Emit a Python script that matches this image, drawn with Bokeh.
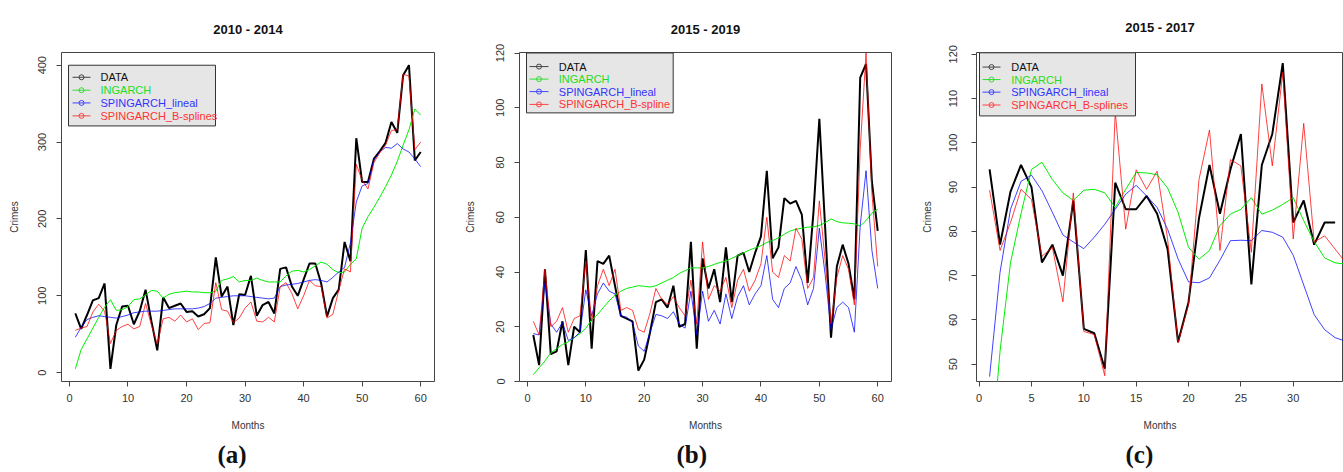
from bokeh.plotting import figure
from bokeh.models import Range1d, FixedTicker, Title, ColumnDataSource
from bokeh.layouts import row
from bokeh.embed import file_html
from bokeh.resources import INLINE
from bokeh.core.properties import value

# ---------------- data ----------------
months_a = list(range(1, 61))
data_a = [77, 57, 75, 94, 97, 116, 5, 62, 86, 87, 63, 80, 108, 67, 29, 98, 84, 87, 90, 79,
          80, 73, 76, 84, 150, 99, 112, 62, 102, 101, 126, 74, 88, 92, 77, 135, 137, 112, 100, 121,
          142, 142, 116, 73, 97, 108, 170, 145, 305, 248, 248, 278, 288, 299, 326, 312, 387, 400, 276, 287]
ingarch_a = [5, 30, 44, 58, 72, 85, 95, 81, 82, 86, 95, 96, 101, 107, 106, 97, 102, 104, 105, 106,
             105, 105, 104, 104, 106, 120, 122, 125, 118, 120, 120, 123, 120, 118, 118, 118, 126, 132, 133, 131,
             134, 139, 144, 141, 134, 130, 131, 141, 148, 188, 203, 215, 228, 242, 257, 275, 296, 316, 343, 335]
lineal_a = [46, 59, 69, 72, 74, 73, 72, 71, 73, 75, 78, 79, 80, 80, 80, 81, 82, 83, 83, 83,
            83, 84, 86, 90, 97, 98, 99, 100, 100, 100, 99, 98, 97, 96, 97, 112, 114, 115, 116, 118,
            120, 121, 120, 118, 124, 131, 137, 169, 222, 243, 246, 277, 287, 293, 292, 298, 291, 287, 278, 268]
bspl_a = [55, 58, 60, 79, 89, 80, 38, 55, 60, 63, 57, 60, 90, 62, 37, 70, 72, 67, 75, 66,
          70, 56, 64, 65, 117, 82, 80, 65, 71, 84, 92, 67, 66, 72, 66, 112, 117, 103, 83, 100,
          120, 113, 112, 71, 76, 107, 135, 131, 271, 250, 239, 273, 286, 296, 315, 316, 388, 386, 290, 300]

months_b = list(range(1, 61))
data_b = [17, 6, 41, 10, 11, 22, 6, 20, 18, 48, 12, 44, 43, 46, 35, 24, 23, 22, 4, 8,
          18, 29, 30, 27, 35, 20, 21, 51, 12, 45, 34, 41, 29, 49, 29, 46, 47, 40, 47, 53,
          77, 45, 49, 67, 65, 66, 61, 36, 62, 96, 56, 16, 42, 50, 43, 30, 111, 116, 73, 55]
ingarch_b = [2.5, 5, 7.5, 10.5, 12, 13.5, 14.5, 16, 17.5, 19.5, 22.5, 24.5, 27, 29.5, 31.5, 33, 34, 34.5, 35, 34.8,
             34.5, 35, 36, 37, 38, 39.5, 40.5, 41.5, 41.5, 41.5, 42, 42.8, 43.5, 44, 45, 46, 47, 48, 48.8, 49.6,
             50.8, 51.5, 52.5, 53.8, 55, 55.6, 56, 56.4, 56.5, 57, 58, 59.4, 58.4, 58, 57.8, 57.6, 56.8, 58.8, 61.5, 63]
lineal_b = [17.5, 17, 36, 21, 18, 21.5, 15, 16, 18, 33.5, 24, 32, 36, 33, 32, 24, 23.5, 21.5, 13, 11,
            18, 24.5, 24, 23, 25.5, 21, 19.5, 33, 17, 33, 22, 26, 21, 32, 23, 31, 35, 28, 32, 35,
            46, 30, 27, 34, 36, 42, 37, 28, 34, 56, 39, 19, 27, 29, 27, 18, 57, 77, 48, 34]
bspl_b = [22, 17, 41, 20, 22, 27, 18, 23, 24, 44, 22, 35, 41, 35, 41, 26, 27, 26, 19, 18,
          25, 34, 30, 28, 31, 27, 24, 37, 21, 51, 30, 35, 33, 38, 27, 37, 41, 33, 37, 43,
          60, 40, 38, 46, 44, 56, 52, 34, 38, 66, 44, 21, 38, 46, 41, 28, 85, 120, 69, 42]

months_c_data = list(range(1, 35))
months_c_model = list(range(1, 36))
data_c = [94, 77, 89, 95, 90, 73, 77, 70, 87, 58, 57, 49, 91, 85, 85, 88, 84, 76, 55, 64,
          83, 95, 84, 94, 102, 68, 95, 102, 118, 82, 87, 77, 82, 82]
ingarch_c = [25, 53, 73, 84, 94, 95.6, 91.7, 88.7, 87, 89.3, 89.5, 88.7, 85.4, 89.5, 93.3, 93.2, 92.8, 89.8, 84.3, 76.4,
             73.7, 75.7, 81.3, 83.9, 85, 87.6, 83.9, 84.8, 86.1, 87.6, 82.4, 77.7, 74, 72.9, 72.6]
lineal_c = [47.2, 70.8, 85, 91.3, 92.7, 89.2, 84.3, 79.2, 77.6, 76.1, 78.7, 81.6, 85, 88.4, 90.4, 88, 85.4, 80.5, 73.8, 68.6,
            68.4, 69.5, 73.5, 77.9, 78, 77.9, 80.2, 79.8, 78.7, 74.6, 67.9, 61.2, 57.8, 56, 55.2]
bspl_c = [89.3, 75.7, 82, 89.5, 87.2, 74.4, 76.4, 64.1, 88.7, 57.4, 56.7, 47.4, 107, 80.5, 93.9, 89.5, 93.6, 78.3, 54.8, 63.4,
          91.7, 102.9, 75.7, 96.2, 94.8, 75.3, 113.3, 94.8, 115.9, 78.3, 104.4, 77.6, 79, 76, 73]

titles = ["2010 - 2014", "2015 - 2019", "2015 - 2017"]
sublabels = ["(a)", "(b)", "(c)"]
legend_a = ["DATA", "INGARCH", "SPINGARCH_lineal", "SPINGARCH_B-splines"]
legend_b = ["DATA", "INGARCH", "SPINGARCH_lineal", "SPINGARCH_B-spline"]
legend_c = ["DATA", "INGARCH", "SPINGARCH_lineal", "SPINGARCH_B-splines"]
xticks_ab = [0, 10, 20, 30, 40, 50, 60]
xticks_c = [0, 5, 10, 15, 20, 25, 30, 35]
yticks_a = [0, 100, 200, 300, 400]
yticks_b = [0, 20, 40, 60, 80, 100, 120]
yticks_c = [50, 60, 70, 80, 90, 100, 110, 120]

# ---------------- styling ----------------
SANS = "Liberation Sans"
LINE_COLORS = ["#000000", "#00ee00", "#0000ff", "#ff0000"]
LINE_ALPHA = [1.0, 1.0, 0.75, 0.75]
LINE_WIDTH = [2.0, 1.0, 1.0, 1.0]
LEG_LINE_COLORS = ["#444444", "#33dd33", "#4444ff", "#ff4444"]
LEG_TEXT_COLORS = ["#111111", "#22dd22", "#3333ff", "#ff3333"]


def make_panel(title, sub, sub_offset, xr, yr, w, h, bl, bt, br, bb, xticks, yticks,
               ylab_standoff, yaxis_standoff, series, labels, leg, title_standoff):
    p = figure(width=w, height=h, x_range=Range1d(*xr), y_range=Range1d(*yr),
               output_backend="svg", toolbar_location=None, title=title)
    p.min_border_left = bl
    p.min_border_right = br
    p.min_border_top = bt
    p.min_border_bottom = bb
    p.background_fill_color = "white"
    p.border_fill_color = "white"
    p.outline_line_color = "#444444"
    p.outline_line_width = 1
    p.xgrid.visible = False
    p.ygrid.visible = False

    p.title.align = "center"
    p.title.vertical_align = "top"
    p.title.text_font = SANS
    p.title.text_font_size = "13px"
    p.title.text_font_style = "bold"
    p.title.text_color = "#111111"
    p.title.standoff = title_standoff

    for ax in (p.xaxis[0], p.yaxis[0]):
        ax.axis_line_color = None
        ax.major_tick_line_color = "#444444"
        ax.major_tick_out = 5
        ax.major_tick_in = 0
        ax.minor_tick_line_color = None
        ax.major_label_text_font = SANS
        ax.major_label_text_font_size = "11px"
        ax.major_label_text_color = "#333333"
        ax.axis_label_text_font = SANS
        ax.axis_label_text_font_size = "10px"
        ax.axis_label_text_font_style = "normal"
        ax.axis_label_text_color = "#333333"
    p.xaxis[0].ticker = FixedTicker(ticks=xticks)
    p.yaxis[0].ticker = FixedTicker(ticks=yticks)
    p.xaxis[0].axis_label = "Months"
    p.xaxis[0].major_label_standoff = 7
    p.xaxis[0].axis_label_standoff = 15
    p.yaxis[0].axis_label = "Crimes"
    p.yaxis[0].major_label_orientation = "vertical"
    p.yaxis[0].major_label_standoff = ylab_standoff
    p.yaxis[0].axis_label_standoff = yaxis_standoff

    p.add_layout(Title(text=sub, align="left", offset=sub_offset, text_font="Liberation Serif",
                       text_font_size="25px", text_font_style="bold", text_color="#111111"), "below")

    # series
    for i, (xs, ys) in enumerate(series):
        p.line(xs, ys, line_color=LINE_COLORS[i], line_alpha=LINE_ALPHA[i], line_width=LINE_WIDTH[i])

    # legend (positions given in canvas pixels, converted to data space)
    fw = w - bl - br
    fh = h - bt - bb

    def X(px):
        return xr[0] + (px - bl) / fw * (xr[1] - xr[0])

    def Y(py):
        return yr[1] - (py - bt) / fh * (yr[1] - yr[0])

    (bx0, by0, bx1, by1), rows_y, lx0, lx1, tx = leg
    p.quad(left=[X(bx0)], right=[X(bx1)], top=[Y(by0)], bottom=[Y(by1)],
           fill_color="#e6e6e6", line_color="#333333", line_width=1)
    for i, ry in enumerate(rows_y):
        p.line([X(lx0), X(lx1)], [Y(ry), Y(ry)], line_color=LEG_LINE_COLORS[i], line_width=1)
        p.scatter([X((lx0 + lx1) / 2)], [Y(ry)], marker="circle", size=5,
                  fill_color=None, line_color=LEG_LINE_COLORS[i], line_width=1)
    src = ColumnDataSource(dict(x=[X(tx)] * 4, y=[Y(r) for r in rows_y], t=labels, c=LEG_TEXT_COLORS))
    p.text(x="x", y="y", text="t", text_color="c", source=src, text_font=value(SANS),
           text_font_size="11px", text_baseline="middle", text_align="left")
    return p


pa = make_panel(titles[0], sublabels[0], 156, (-1.36, 62.36), (-11.5, 416.5),
                455, 472, 61, 48, 21, 88, xticks_ab, yticks_a, 10, 16,
                [(months_a, data_a), (months_a, ingarch_a), (months_a, lineal_a), (months_a, bspl_a)],
                legend_a,
                ((68, 61, 215, 123), [73.3, 86.5, 99.5, 112.7], 72, 90, 100), 28)

pb = make_panel(titles[1], sublabels[1], 157, (-1.36, 62.36), (0, 120.2),
                455, 472, 64, 48, 19, 90, xticks_ab, yticks_b, 10, 18,
                [(months_b, data_b), (months_b, ingarch_b), (months_b, lineal_b), (months_b, bspl_b)],
                legend_b,
                ((71, 48.5, 217.7, 109.3), [62.3, 75, 87.7, 100.7], 74, 93, 103.3), 28)

pc = make_panel(titles[2], sublabels[2], 149, (-0.25, 34.8), (46.1, 120.4),
                433, 472, 66, 52, 0, 88, xticks_c, yticks_c, 14, 14,
                [(months_c_data, data_c), (months_c_model, ingarch_c), (months_c_model, lineal_c),
                 (months_c_model, bspl_c)],
                legend_c,
                ((69, 52.3, 225, 116), [66.7, 79.3, 92, 105], 72, 90, 100.7), 32)

layout = row(pa, pb, pc)
open("out.html", "w").write(file_html(layout, INLINE))
